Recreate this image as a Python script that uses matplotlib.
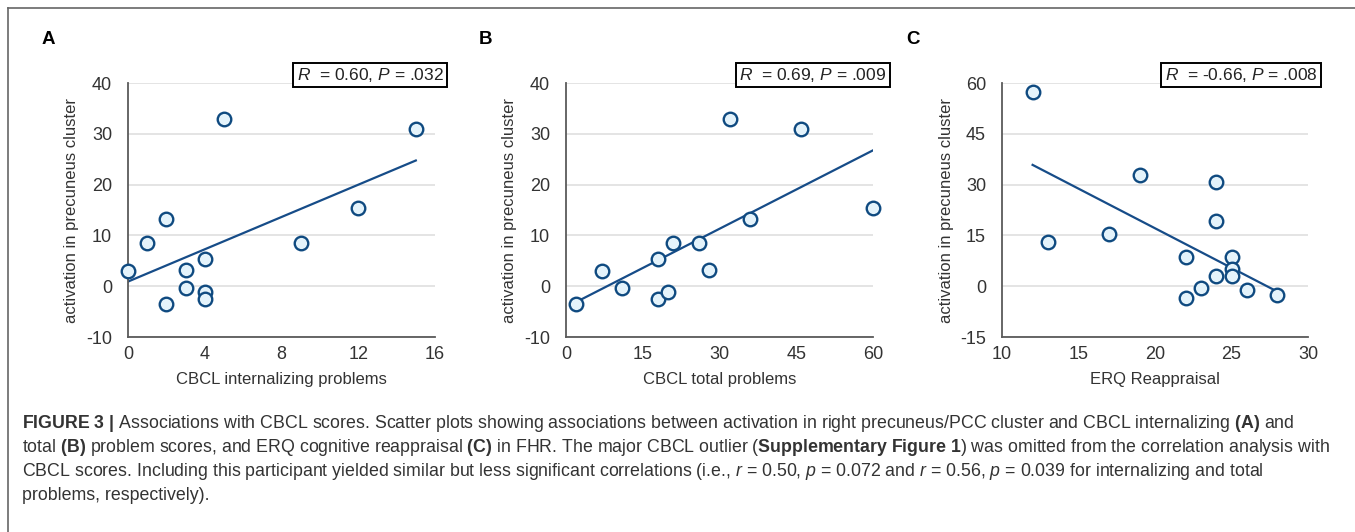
import numpy as np
import matplotlib
matplotlib.use("Agg")
import matplotlib.pyplot as plt

plt.rcParams.update({
    "font.family": ["Liberation Sans", "DejaVu Sans"],
    "mathtext.fontset": "custom",
    "mathtext.rm": "Liberation Sans",
    "mathtext.it": "Liberation Sans:italic",
    "mathtext.bf": "Liberation Sans:bold",
    "axes.unicode_minus": False,
})

# ── panel A: CBCL internalizing ──
a_x = [0, 1, 2, 2, 3, 3, 4, 4, 4, 5, 9, 12, 15]
a_y = [3.0, 8.55, 13.2, -3.5, 3.2, -0.3, 5.4, -1.2, -2.6, 33.0, 8.55, 15.3, 30.9]
# ── panel B: CBCL total ──
b_x = [2, 7, 11, 18, 18, 20, 21, 26, 28, 32, 36, 46, 60]
b_y = [-3.5, 3.0, -0.3, 5.4, -2.6, -1.2, 8.55, 8.55, 3.2, 33.0, 13.2, 30.9, 15.3]
# ── panel C: ERQ reappraisal ──
c_x = [12, 13, 17, 19, 22, 22, 23, 24, 24, 24, 25, 25, 25, 26, 28]
c_y = [57.2, 13.1, 15.3, 32.9, 8.5, -3.6, -0.4, 30.8, 19.2, 3.1, 8.5, 5.2, 2.9, -1.2, -2.7]

panels = [
    ("A", a_x, a_y, "CBCL internalizing problems", [0, 4, 8, 12, 16], [-10, 0, 10, 20, 30, 40],
     r"$\it{R}$  = 0.60, $\it{P}$ = .032"),
    ("B", b_x, b_y, "CBCL total problems", [0, 15, 30, 45, 60], [-10, 0, 10, 20, 30, 40],
     r"$\it{R}$  = 0.69, $\it{P}$ = .009"),
    ("C", c_x, c_y, "ERQ Reappraisal", [10, 15, 20, 25, 30], [-15, 0, 15, 30, 45, 60],
     r"$\it{R}$  = -0.66, $\it{P}$ = .008"),
]

W, H = 1355, 532
fig = plt.figure(figsize=(W / 100, H / 100), dpi=100)

# pixel layout: axes left/right, label x, stat box centre x
lay = [(128, 435, 42, 370), (566, 873, 479, 813), (1002, 1308, 906, 1241)]
top_px, bot_px = 83, 337

EDGE = "#0f4a80"
FILL = "#e4f3fb"
LINE = "#164c88"
TXT = "#333333"

for (lab, xs, ys, xlabel, xt, yt, stat), (l, r, lx, bx) in zip(panels, lay):
    ax = fig.add_axes([l / W, 1 - bot_px / H, (r - l) / W, (bot_px - top_px) / H])
    ax.set_xlim(xt[0], xt[-1])
    ax.set_ylim(yt[0], yt[-1])
    ax.set_xticks(xt)
    ax.set_yticks(yt)
    ax.tick_params(length=0, labelsize=13, colors=TXT)
    ax.tick_params(axis="y", pad=11.5)
    ax.tick_params(axis="x", pad=6.5)
    ax.grid(axis="y", color="#dcdcdc", lw=1.1)
    ax.set_axisbelow(True)
    for s in ("top", "right"):
        ax.spines[s].set_visible(False)
    for s in ("left", "bottom"):
        ax.spines[s].set_color("#5a5a5a")
        ax.spines[s].set_linewidth(1.3)

    xs_a = np.array(xs, float)
    ys_a = np.array(ys, float)
    k, b0 = np.polyfit(xs_a, ys_a, 1)
    xl = np.array([xs_a.min(), xs_a.max()])
    ax.plot(xl, k * xl + b0, color=LINE, lw=1.6, zorder=2)
    ax.scatter(xs_a, ys_a, s=95, facecolor=FILL, edgecolor=EDGE, linewidth=1.7,
               zorder=3, clip_on=False)

    ax.set_xlabel(xlabel, fontsize=12, color=TXT)
    ax.set_ylabel("activation in precuneus cluster", fontsize=12, color=TXT)
    ax.xaxis.set_label_coords(0.5, -0.169)
    ax.xaxis.label.set_va("center")
    ax.yaxis.set_label_coords(-0.183, 0.5)
    ax.yaxis.label.set_va("center")

    fig.text(lx / W, 1 - 40 / H, lab, fontsize=13.5, fontweight="bold", va="center", ha="left")
    fig.text(bx / W, 1 - 75 / H, stat, fontsize=12.5, color="#222222", ha="center", va="center",
             bbox=dict(boxstyle="square,pad=0.2", facecolor="white", edgecolor="black", lw=1.4))

# outer frame (left and top rules)
fig.add_artist(plt.Line2D([8 / W, 8 / W], [0, 1 - 8 / H], color="#666666", lw=1.2))
fig.add_artist(plt.Line2D([8 / W, 1], [1 - 8 / H, 1 - 8 / H], color="#666666", lw=1.2))

caption = [
    r"$\bf{FIGURE\ 3\ |}$ Associations with CBCL scores. Scatter plots showing associations between activation in right precuneus/PCC cluster and CBCL internalizing $\bf{(A)}$ and",
    r"total $\bf{(B)}$ problem scores, and ERQ cognitive reappraisal $\bf{(C)}$ in FHR. The major CBCL outlier ($\bf{Supplementary\ Figure\ 1}$) was omitted from the correlation analysis with",
    r"CBCL scores. Including this participant yielded similar but less significant correlations (i.e., $\it{r}$ = 0.50, $\it{p}$ = 0.072 and $\it{r}$ = 0.56, $\it{p}$ = 0.039 for internalizing and total",
    r"problems, respectively).",
]
for i, line in enumerate(caption):
    fig.text(22 / W, 1 - (424 + 24 * i) / H, line, fontsize=12.75, color=TXT, ha="left", va="center")

fig.savefig("out.png", dpi=100, facecolor="white")
